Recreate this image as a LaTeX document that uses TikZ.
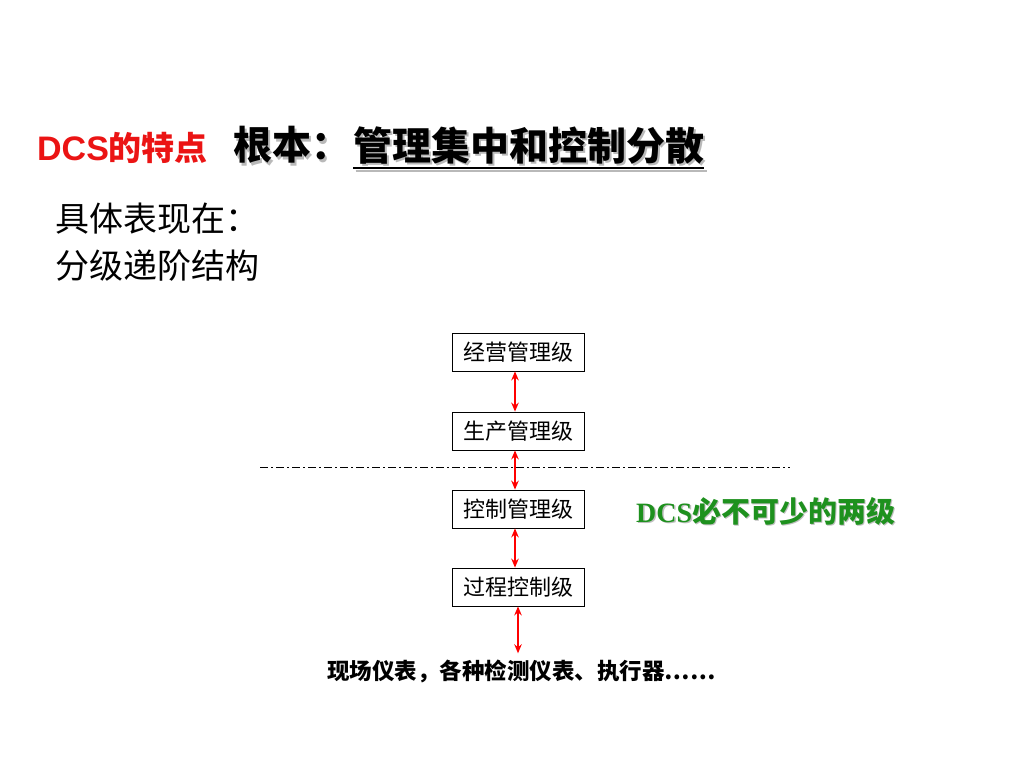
\documentclass[tikz,border=0pt]{standalone}
\usepackage{fontspec}
\setmainfont{Noto Sans CJK SC}
\newfontfamily\latinsans{Liberation Sans}
\newfontfamily\latinserif{Liberation Serif}
\usetikzlibrary{arrows.meta,positioning}
\definecolor{titlered}{RGB}{235,20,20}
\definecolor{dcsgreen}{RGB}{30,145,30}
% text with a soft drop shadow behind it
\newcommand{\dropshade}[3]{\rlap{\hspace{#2}\raisebox{-#2}{\color{#1}#3}}#3}

\begin{document}
\begin{tikzpicture}[x=1pt,y=-1pt,
    level/.style={draw,line width=0.8pt,minimum width=132pt,minimum height=38pt,inner sep=0pt,font=\fontsize{22}{24}\selectfont},
    link/.style={red,line width=1.3pt,{Stealth[length=9pt,width=7.5pt]}-{Stealth[length=9pt,width=7.5pt]}},
    plain/.style={inner sep=0pt,anchor=west}]
    \useasboundingbox[fill=white] (0,0) rectangle (1024,768);
    % heading
    \node[plain,text=titlered,font=\bfseries] (feature) at (37,148) {{\latinsans\fontsize{34}{38}\selectfont DCS}\fontsize{33}{38}\selectfont 的特点};
    \node[plain,font=\fontsize{39}{44}\selectfont\bfseries] (root) at (233,146.5) {\dropshade{gray!55}{2.5pt}{根本：}};
    \node[plain,font=\fontsize{39}{44}\selectfont\bfseries] (key) at (353,146.5) {\dropshade{gray!55}{2.5pt}{管理集中和控制分散}};
    \draw[gray!55,line width=2pt] ([xshift=2.5pt]key.west |- 0,170.5) -- ([xshift=2.5pt]key.east |- 0,170.5);
    \draw[line width=2pt] (key.west |- 0,168) -- (key.east |- 0,168);
    \node[plain,font=\fontsize{34}{38}\selectfont] (show) at (55,219) {具体表现在：};
    \node[plain,font=\fontsize{34}{38}\selectfont] (tier) at (55,266) {分级递阶结构};
    % levels
    \node[level] (business) at (518,352) {经营管理级};
    \node[level] (production) at (518,431) {生产管理级};
    \node[level] (control) at (518,509) {控制管理级};
    \node[level] (process) at (518,587) {过程控制级};
    \node[inner sep=0pt,font=\fontsize{22.5}{26}\selectfont\bfseries] (field) at (521.5,671) {现场仪表，各种检测仪表、执行器……};
    \coordinate (cutL) at (260,467);
    \coordinate (cutR) at (790,467);
    \draw[line width=0.6pt,dash pattern=on 8pt off 3pt on 2pt off 3pt] (cutL) -- (cutR);
    \draw[link] ([xshift=-3pt]business.south) -- ([xshift=-3pt]production.north);
    \draw[link] ([xshift=-3pt]production.south) -- ([xshift=-3pt]control.north);
    \draw[link] ([xshift=-3pt]control.south) -- ([xshift=-3pt]process.north);
    \draw[link] (process.south) -- ([yshift=6pt]process.south |- field.north);
    % note
    \node[plain,text=dcsgreen,font=\fontsize{29}{34}\selectfont\bfseries] (note) at (636,512) {\dropshade{gray!50}{1.5pt}{{\latinserif\fontsize{28}{34}\selectfont DCS}必不可少的两级}};
\end{tikzpicture}
\end{document}
